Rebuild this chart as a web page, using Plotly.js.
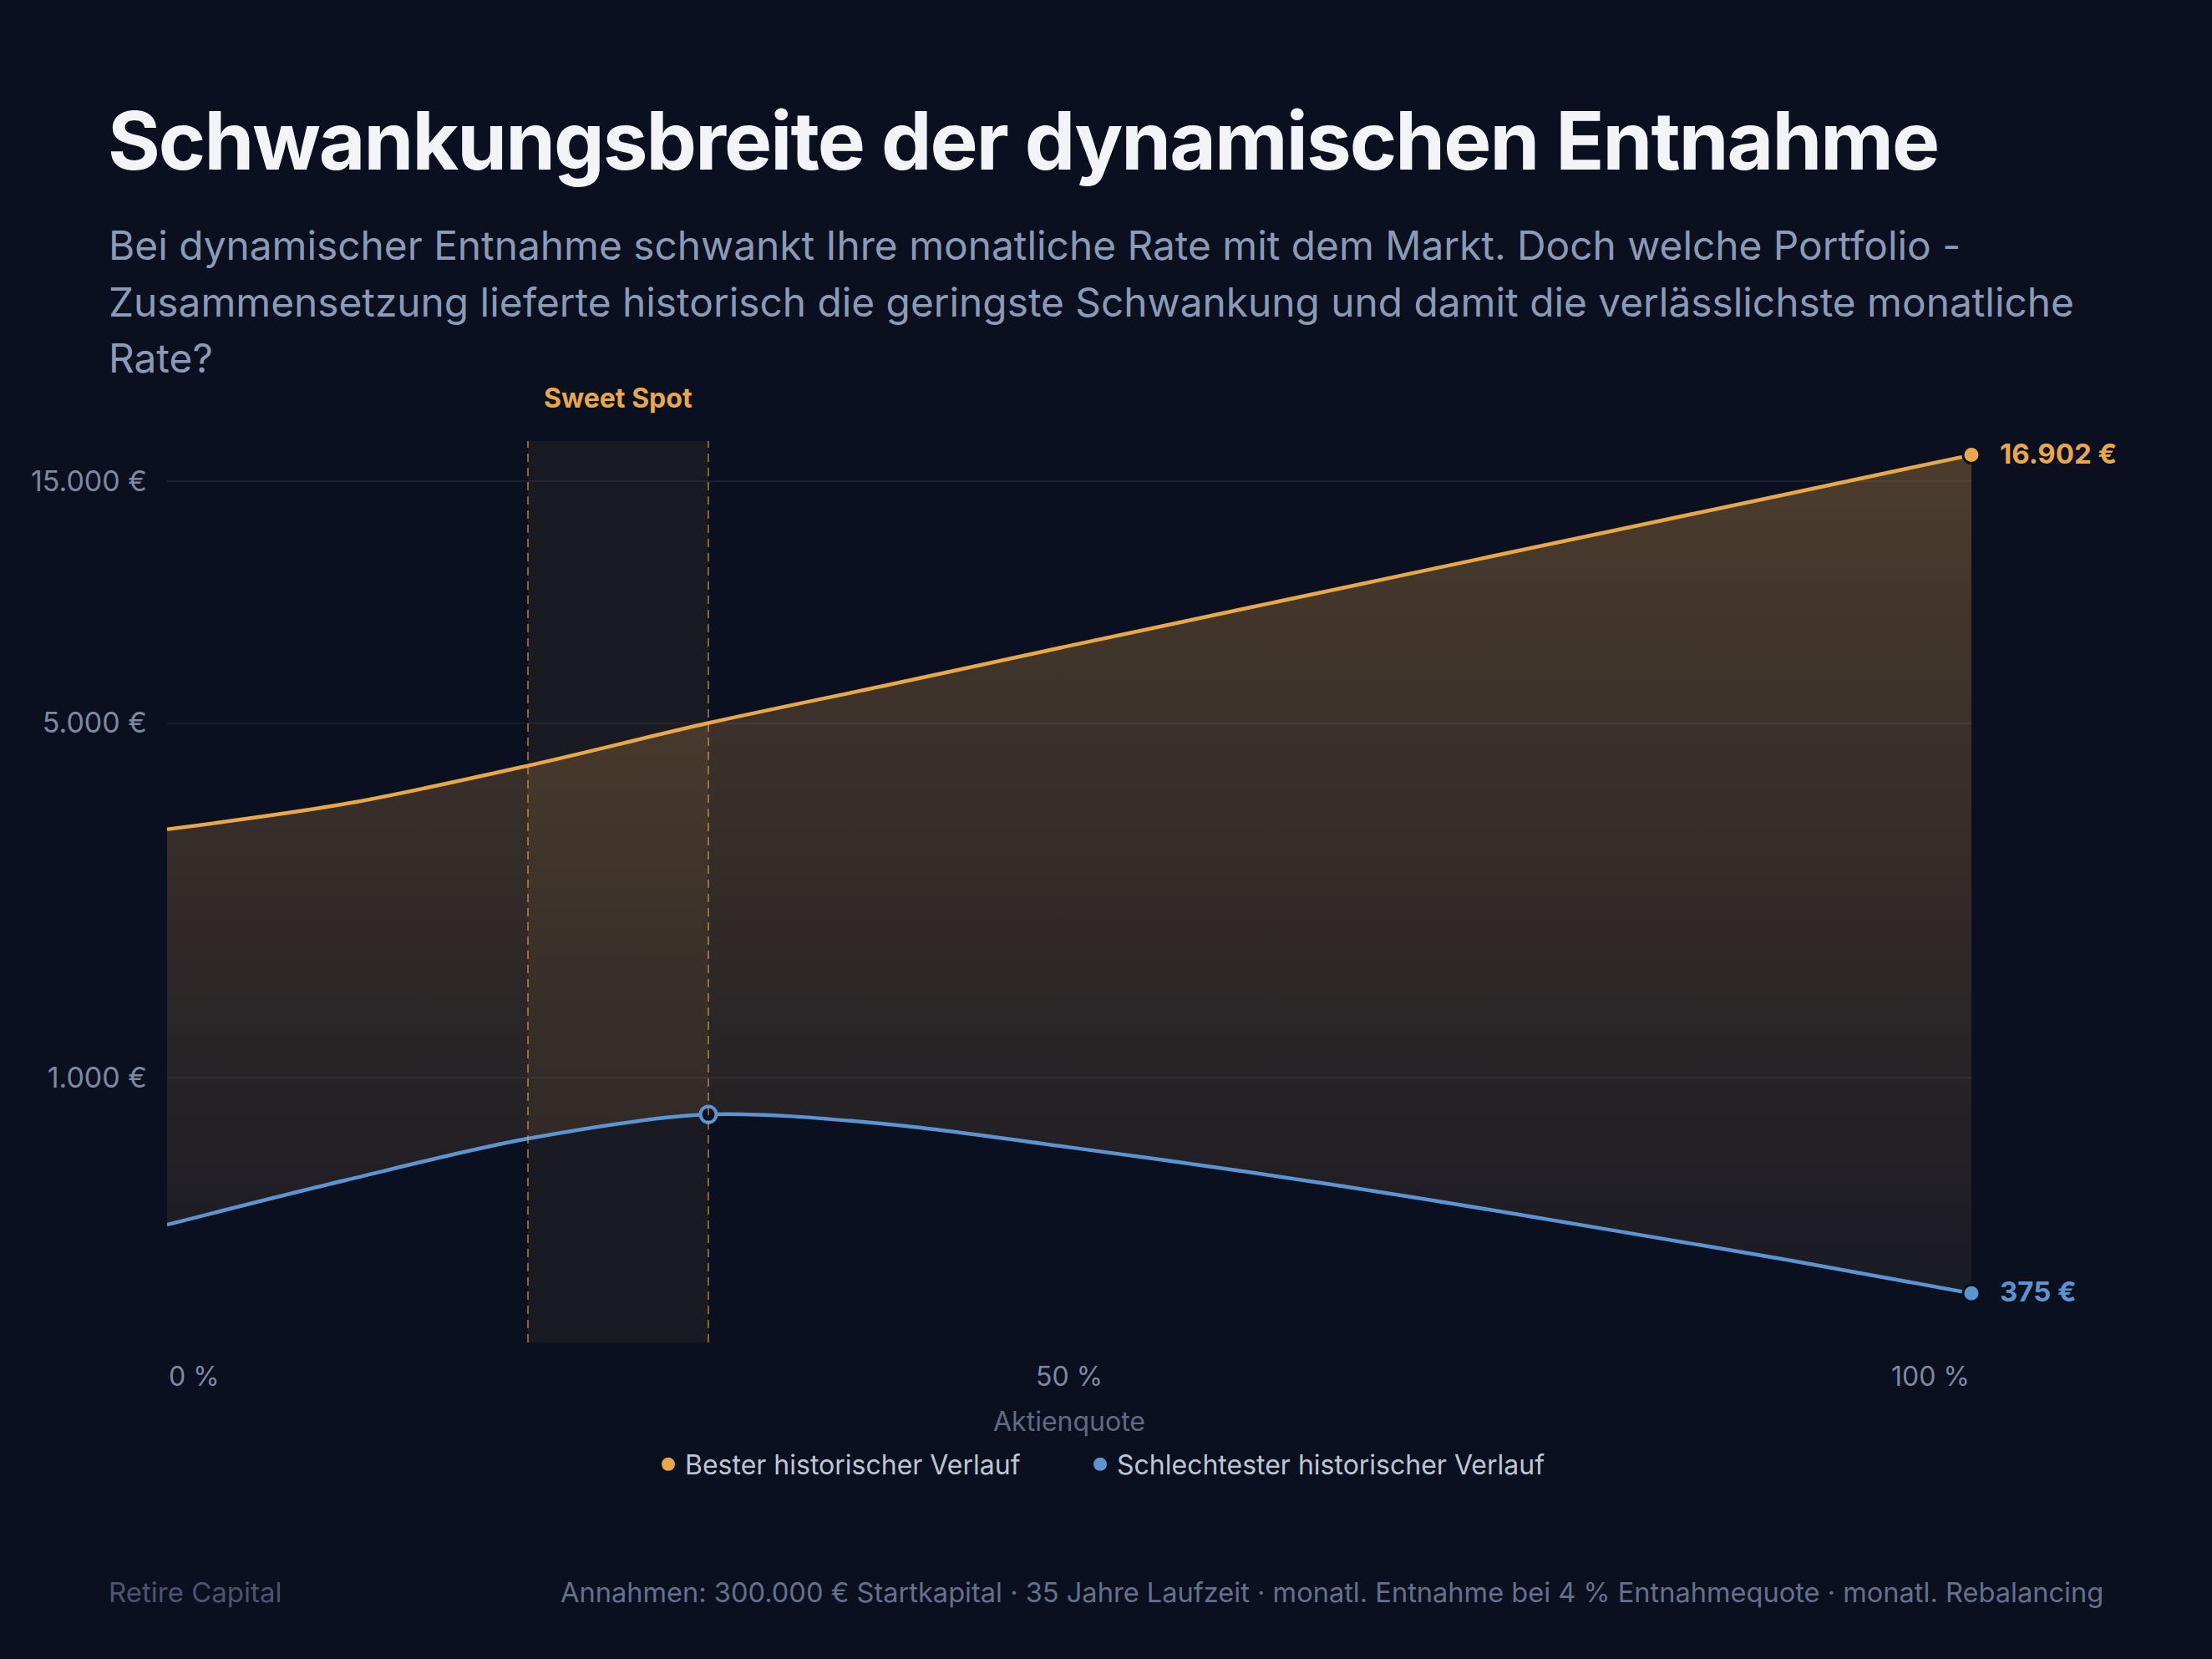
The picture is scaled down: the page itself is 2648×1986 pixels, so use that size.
<!DOCTYPE html>
<html lang="de">
<head>
<meta charset="utf-8">
<title>Schwankungsbreite der dynamischen Entnahme</title>
<script src="https://cdn.plot.ly/plotly-3.0.1.min.js"></script>
<style>
  html, body { margin: 0; padding: 0; background: #0b1021; }
  #chart { width: 2648px; height: 1986px; }
  /* enger gesetzte Überschrift */
  g.annotation[data-index="0"] text { letter-spacing: -1.9px; }
</style>
</head>
<body>
<div id="chart"></div>
<script>
// Aktienquote in Prozent
const aktienquote = [0, 10, 20, 30, 40, 50, 60, 70, 80, 90, 100];
// Monatliche Rate im besten historischen Verlauf (€)
const besterVerlauf = [3085, 3470, 4120, 5000, 5950, 7100, 8450, 10050, 11950, 14200, 16902];
// Monatliche Rate im schlechtesten historischen Verlauf (€)
const schlechtesterVerlauf = [512, 628, 757, 845, 808, 728, 650, 573, 500, 435, 375];
// Bereich der Aktienquote mit der geringsten Schwankung
const sweetSpot = [20, 30];

const yTickVals = [1000, 5000, 15000];
const yTickText = ['1.000 €', '5.000 €', '15.000 €'];
const xTickVals = [0, 50, 100];
const xTickText = ['0 %', '50 %', '100 %'];

const seriesNames = ['Bester historischer Verlauf', 'Schlechtester historischer Verlauf'];
const titleText = 'Schwankungsbreite der dynamischen Entnahme';
const subtitleLines = [
  'Bei dynamischer Entnahme schwankt Ihre monatliche Rate mit dem Markt. Doch welche Portfolio -',
  'Zusammensetzung lieferte historisch die geringste Schwankung und damit die verlässlichste monatliche',
  'Rate?'
];
const footerLeft = 'Retire Capital';
const footerRight = 'Annahmen: 300.000 € Startkapital · 35 Jahre Laufzeit · monatl. Entnahme bei 4 % Entnahmequote · monatl. Rebalancing';

// Farben
const BG = '#0b1021';
const ORANGE = '#e8a84a';
const BLUE = '#5b95d1';
const FONT = 'Inter, sans-serif';

// Seitengeometrie und Umrechnung von Pixeln in Papierkoordinaten
const W = 2648, H = 1986;
const M = { l: 200, r: 288, t: 528, b: 379 };
const plotW = W - M.l - M.r, plotH = H - M.t - M.b;
const px = x => (x - M.l) / plotW;
const py = y => (H - M.b - y) / plotH;

// Deutsches Zahlenformat mit Tausenderpunkt
const euro = v => Math.round(v).toString().replace(/\B(?=(\d{3})+(?!\d))/g, '.') + ' €';

const last = aktienquote.length - 1;
const spotIdx = aktienquote.indexOf(sweetSpot[1]);

const traces = [
  {
    x: aktienquote, y: schlechtesterVerlauf, type: 'scatter', mode: 'lines',
    line: { color: BLUE, width: 4.5, shape: 'spline', smoothing: 0.9 },
    showlegend: false, hoverinfo: 'skip'
  },
  {
    x: aktienquote, y: besterVerlauf, type: 'scatter', mode: 'lines',
    line: { color: ORANGE, width: 4.5, shape: 'spline', smoothing: 0.9 },
    fill: 'tonexty',
    fillgradient: {
      type: 'vertical',
      colorscale: [[0, 'rgba(232,168,74,0.07)'], [1, 'rgba(232,168,74,0.29)']]
    },
    showlegend: false, hoverinfo: 'skip'
  },
  // Endpunkte
  {
    x: [aktienquote[last]], y: [besterVerlauf[last]], type: 'scatter', mode: 'markers',
    marker: { size: 20, color: ORANGE, line: { color: BG, width: 3 } },
    cliponaxis: false, showlegend: false, hoverinfo: 'skip'
  },
  {
    x: [aktienquote[last]], y: [schlechtesterVerlauf[last]], type: 'scatter', mode: 'markers',
    marker: { size: 20, color: BLUE, line: { color: BG, width: 3 } },
    cliponaxis: false, showlegend: false, hoverinfo: 'skip'
  },
  // Höchster Wert des schlechtesten Verlaufs am Ende des Sweet Spots
  {
    x: [aktienquote[spotIdx]], y: [schlechtesterVerlauf[spotIdx]], type: 'scatter', mode: 'markers',
    marker: { size: 19, color: BG, line: { color: BLUE, width: 4 } },
    cliponaxis: false, showlegend: false, hoverinfo: 'skip'
  },
  // Legendeneinträge
  {
    x: [null], y: [null], type: 'scatter', mode: 'markers', name: seriesNames[0],
    marker: { size: 16, color: ORANGE }, showlegend: true, legend: 'legend'
  },
  {
    x: [null], y: [null], type: 'scatter', mode: 'markers', name: seriesNames[1],
    marker: { size: 16, color: BLUE }, showlegend: true, legend: 'legend2'
  }
];

const shapes = [
  {
    type: 'rect', xref: 'x', yref: 'paper', x0: sweetSpot[0], x1: sweetSpot[1], y0: 0, y1: 1,
    fillcolor: 'rgba(232,168,74,0.07)', line: { width: 0 }, layer: 'below'
  },
  ...sweetSpot.map(v => ({
    type: 'line', xref: 'x', yref: 'paper', x0: v, x1: v, y0: 0, y1: 1,
    line: { color: 'rgba(232,168,74,0.55)', width: 2, dash: '10px,7px' }, layer: 'above'
  }))
];

const annotations = [
  {
    text: titleText, xref: 'paper', yref: 'paper', x: px(87), y: py(167.5),
    xanchor: 'left', yanchor: 'middle', showarrow: false,
    font: { family: FONT, size: 96, weight: 700, color: '#f2f4f8' }
  },
  ...subtitleLines.map((t, i) => ({
    text: t, xref: 'paper', yref: 'paper', x: px(128), y: py([294.3, 362, 428.7][i]),
    xanchor: 'left', yanchor: 'middle', showarrow: false,
    font: { family: FONT, size: 47.8, color: '#8b9ab5' }
  })),
  {
    text: 'Sweet Spot', xref: 'x', yref: 'paper', x: (sweetSpot[0] + sweetSpot[1]) / 2, y: py(476.7),
    xanchor: 'center', yanchor: 'middle', showarrow: false,
    font: { family: FONT, size: 32, weight: 700, color: ORANGE }
  },
  ...xTickVals.map((v, i) => ({
    text: xTickText[i], xref: 'x', yref: 'paper', x: v, y: py(1648),
    xanchor: i === 0 ? 'left' : (i === xTickVals.length - 1 ? 'right' : 'center'),
    yanchor: 'middle', showarrow: false,
    font: { family: FONT, size: 32, color: '#7d89a0' }
  })),
  {
    text: euro(besterVerlauf[last]), xref: 'x', yref: 'y', x: aktienquote[last],
    y: Math.log10(besterVerlauf[last]), xanchor: 'left', yanchor: 'middle', xshift: 32, yshift: 2,
    showarrow: false, font: { family: FONT, size: 33, weight: 700, color: ORANGE }
  },
  {
    text: euro(schlechtesterVerlauf[last]), xref: 'x', yref: 'y', x: aktienquote[last],
    y: Math.log10(schlechtesterVerlauf[last]), xanchor: 'left', yanchor: 'middle', xshift: 32, yshift: 2,
    showarrow: false, font: { family: FONT, size: 33, weight: 700, color: BLUE }
  },
  {
    text: footerLeft, xref: 'paper', yref: 'paper', x: px(128), y: py(1906),
    xanchor: 'left', yanchor: 'middle', showarrow: false,
    font: { family: FONT, size: 33, color: '#4b566e' }
  },
  {
    text: footerRight, xref: 'paper', yref: 'paper', x: px(2520), y: py(1906),
    xanchor: 'right', yanchor: 'middle', showarrow: false,
    font: { family: FONT, size: 32.6, color: '#65708a' }
  }
];

const legendStyle = {
  orientation: 'h', yanchor: 'middle', xanchor: 'left', y: py(1753),
  font: { family: FONT, size: 32, color: '#bec6d4' },
  bgcolor: 'rgba(0,0,0,0)'
};

const layout = {
  width: W, height: H,
  paper_bgcolor: BG, plot_bgcolor: BG,
  margin: M,
  font: { family: FONT, color: '#7d89a0' },
  showlegend: true,
  legend: Object.assign({}, legendStyle, { x: px(780) }),
  legend2: Object.assign({}, legendStyle, { x: px(1297) }),
  xaxis: {
    range: [0, 100], showgrid: false, zeroline: false, showline: false,
    showticklabels: false, ticks: '', fixedrange: true,
    title: { text: 'Aktienquote', standoff: 83, font: { family: FONT, size: 32, color: '#5f6b82' } }
  },
  yaxis: {
    type: 'log', range: [Math.log10(300), Math.log10(18000)],
    tickvals: yTickVals, ticktext: yTickText,
    gridcolor: 'rgba(255,255,255,0.055)', gridwidth: 2,
    zeroline: false, showline: false, ticks: '', fixedrange: true,
    tickfont: { family: FONT, size: 34, color: '#7d89a0' },
    ticklabelstandoff: 23
  },
  shapes: shapes,
  annotations: annotations,
  hovermode: false
};

Plotly.newPlot('chart', traces, layout, { displayModeBar: false, staticPlot: true });
</script>
</body>
</html>
